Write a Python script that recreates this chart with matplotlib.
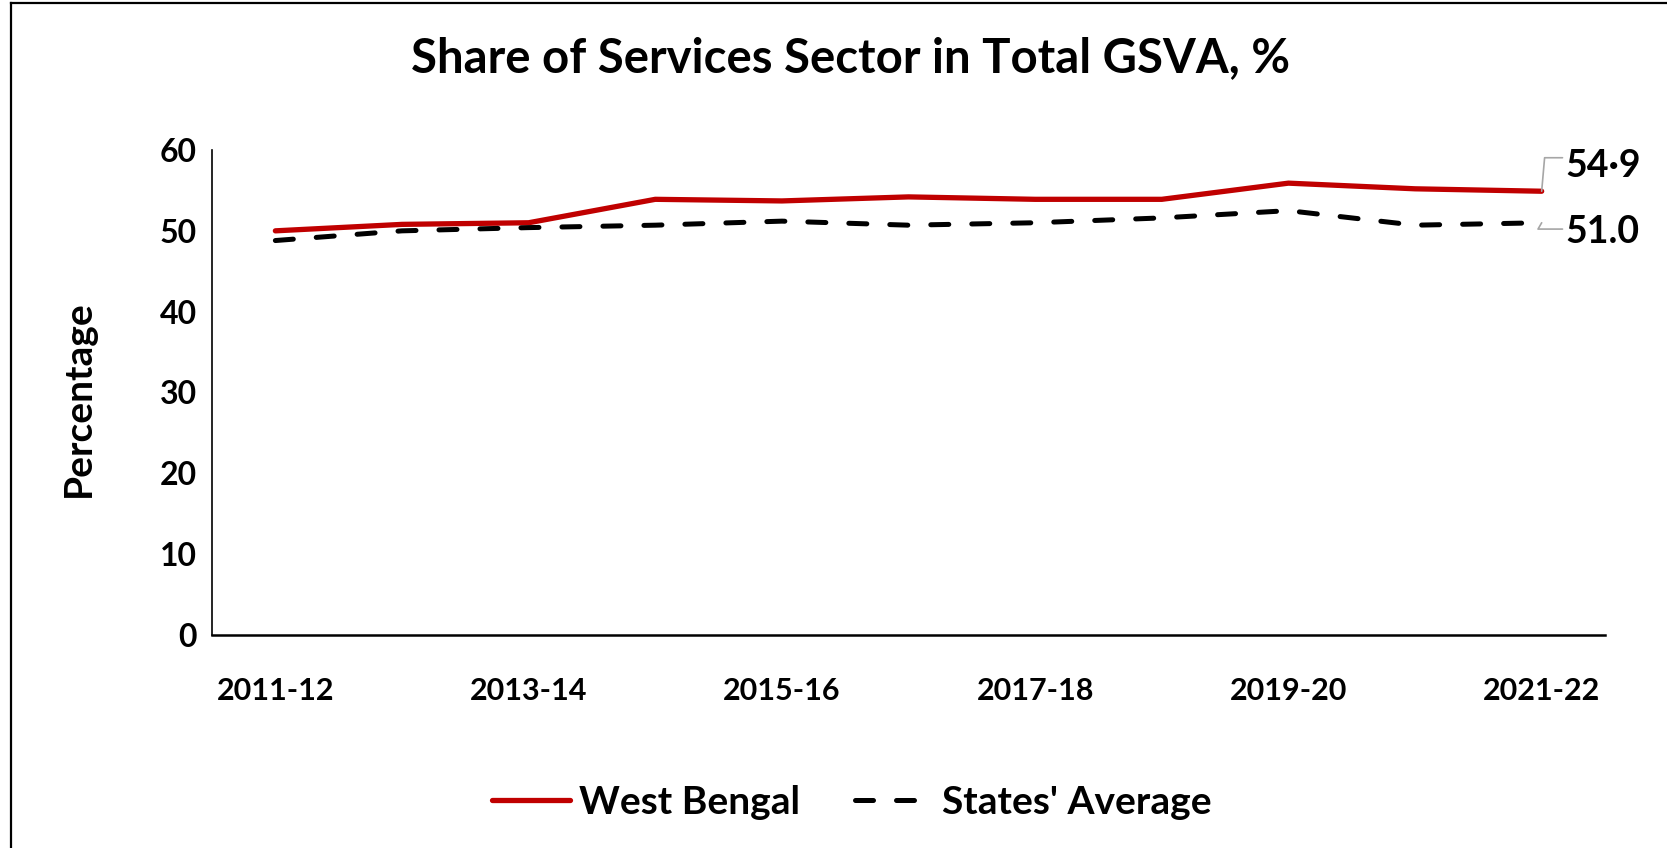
import matplotlib
matplotlib.use("Agg")
import matplotlib.pyplot as plt
from matplotlib.lines import Line2D

plt.rcParams['font.family'] = ['Lato', 'DejaVu Sans']
plt.rcParams['font.weight'] = 'bold'

years = ['2011-12', '2012-13', '2013-14', '2014-15', '2015-16', '2016-17',
         '2017-18', '2018-19', '2019-20', '2020-21', '2021-22']
west_bengal = [50.0, 50.8, 51.0, 53.9, 53.7, 54.2, 53.9, 53.9, 55.9, 55.2, 54.9]
states_avg = [48.8, 50.0, 50.4, 50.7, 51.2, 50.7, 51.0, 51.6, 52.5, 50.7, 51.0]
yticks = [0, 10, 20, 30, 40, 50, 60]
end_labels = ['54·9', '51.0']

fig = plt.figure(figsize=(16.67, 8.48), dpi=100)
ax = fig.add_axes([0.1272, 0.2512, 0.8356, 0.5719])

x = list(range(len(years)))
ax.plot(x, west_bengal, color='#C00000', lw=3.8, solid_capstyle='round',
        solid_joinstyle='round', label='West Bengal')
ax.plot(x, states_avg, color='black', lw=3.6, dashes=[3.6, 4.6],
        dash_capstyle='round', label="States' Average")

ax.set_xlim(-0.5, 10.5)
ax.set_ylim(0, 60)
ax.set_yticks(yticks)
ax.set_yticklabels([str(v) for v in yticks])
ax.set_xticks(x)
ax.set_xticklabels([y if i % 2 == 0 else '' for i, y in enumerate(years)])
ax.tick_params(axis='x', length=0, pad=30, labelsize=22)
ax.tick_params(axis='y', length=0, pad=11, labelsize=23)

for s in ['top', 'right']:
    ax.spines[s].set_visible(False)
ax.spines['left'].set_linewidth(1.2)
ax.spines['bottom'].set_linewidth(1.8)

# end-point labels with leader lines
gray = '#A6A6A6'
ax.annotate(end_labels[0], xy=(10, west_bengal[-1]), xytext=(17, 18),
            textcoords='offset points', ha='left', va='center', fontsize=27,
            arrowprops=dict(arrowstyle='-', color=gray, lw=1.2, shrinkA=0, shrinkB=0,
                            relpos=(0, 0.75),
                            connectionstyle='angle,angleA=180,angleB=85,rad=0'))
ax.annotate(end_labels[1], xy=(10, states_avg[-1]), xytext=(17, -7),
            textcoords='offset points', ha='left', va='center', fontsize=27,
            arrowprops=dict(arrowstyle='-', color=gray, lw=1.2, shrinkA=0, shrinkB=0,
                            relpos=(0, 0.6),
                            connectionstyle='angle,angleA=180,angleB=60,rad=0'))

fig.text(0.5105, 0.9316, 'Share of Services Sector in Total GSVA, %',
         ha='center', va='center', fontsize=34, fontweight='bold')
fig.text(0.047, 0.53, 'Percentage', rotation=90, ha='center', va='center',
         fontsize=28, fontweight='bold')

fig.legend(loc='center', bbox_to_anchor=(0.511, 0.054), ncol=2, frameon=False,
           fontsize=28, handlelength=2.0, handletextpad=0.25, columnspacing=1.4)

# chart area frame (top and left edges visible)
fig.add_artist(Line2D([0.0066, 0.0066], [0, 0.9965], transform=fig.transFigure,
                      color='black', lw=1.6))
fig.add_artist(Line2D([0.0066, 1], [0.9965, 0.9965], transform=fig.transFigure,
                      color='black', lw=1.6))

fig.savefig('out.png', dpi=100)
